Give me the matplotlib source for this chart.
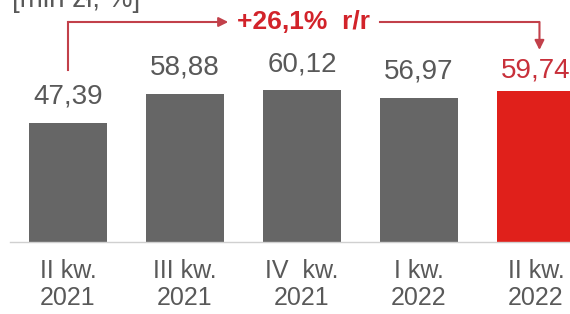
import matplotlib
matplotlib.use("Agg")
import matplotlib.pyplot as plt

categories = ["II kw.\n2021", "III kw.\n2021", "IV  kw.\n2021", "I kw.\n2022", "II kw.\n2022"]
values = [47.39, 58.88, 60.12, 56.97, 59.74]
value_labels = ["47,39", "58,88", "60,12", "56,97", "59,74"]
change_label = "+26,1%  r/r"
unit_label = "[mln zł, %]"

GRAY = "#666666"
TXT = "#595959"
RED_BAR = "#E0201B"
RED_TXT = "#C8303A"
RED_BOLD = "#D2232A"
LINE = "#C2404A"

plt.rcParams["font.family"] = ["Liberation Sans", "DejaVu Sans"]

fig = plt.figure(figsize=(5.7, 3.14), dpi=100)
ax = fig.add_axes([0, 0, 1, 1])
ax.set_xlim(-0.581, 4.291)
ax.set_ylim(-28.57, 96.03)

x = list(range(len(values)))
colors = [GRAY] * (len(values) - 1) + [RED_BAR]
ax.bar(x, values, width=0.667, color=colors, zorder=2)

for i, (v, lab) in enumerate(zip(values, value_labels)):
    last = i == len(values) - 1
    ax.annotate(lab, (i, v), xytext=(0, 10 if last else 14), textcoords="offset points",
                ha="center", va="baseline", fontsize=20,
                color=RED_TXT if last else TXT, zorder=3)

# spine / axis line
for s in ["top", "right", "left"]:
    ax.spines[s].set_visible(False)
ax.spines["bottom"].set_position(("data", 0))
ax.spines["bottom"].set_bounds(-0.496, 4.291)
ax.spines["bottom"].set_color("#D0D0D0")
ax.spines["bottom"].set_linewidth(1.0)
ax.set_yticks([])
ax.set_xticks(x)
ax.set_xticklabels(categories, fontsize=18, color=TXT, linespacing=1.2)
ax.tick_params(axis="x", length=0, pad=12)

# change arrow
line_y = 87.3
ax.plot([0, 0], [68.3, line_y], color=LINE, lw=1.5, zorder=3)
ax.annotate("", xy=(1.37, line_y), xytext=(0, line_y),
            arrowprops=dict(arrowstyle="-|>", color=LINE, lw=1.5, mutation_scale=14,
                            shrinkA=0, shrinkB=0), zorder=3)
ax.text(2.01, line_y, change_label, ha="center", va="center", fontsize=19,
        fontweight="bold", color=RED_BOLD, zorder=3)
ax.plot([2.67, 4.03], [line_y, line_y], color=LINE, lw=1.5, zorder=3)
ax.annotate("", xy=(4.03, 76.2), xytext=(4.03, line_y),
            arrowprops=dict(arrowstyle="-|>", color=LINE, lw=1.5, mutation_scale=14,
                            shrinkA=0, shrinkB=0), zorder=4)

# unit label (cut at top in the reference)
ax.text(-0.48, 93.3, unit_label, ha="left", va="baseline", fontsize=20, color=TXT)

fig.savefig("out.png", dpi=100)
